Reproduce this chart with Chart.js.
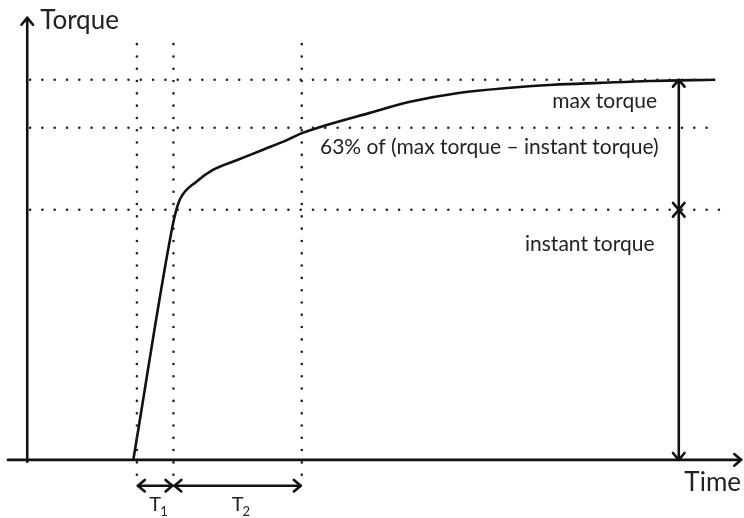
<!DOCTYPE html>
<html>
<head>
<meta charset="utf-8">
<script src="https://cdn.jsdelivr.net/npm/chart.js@4.4.1/dist/chart.umd.min.js"></script>
<style>
  html, body { margin: 0; padding: 0; background: #fff; }
  #wrap { width: 744px; height: 518px; }
</style>
</head>
<body>
<div id="wrap"><canvas id="torque"></canvas></div>
<script>
// curve (time in arbitrary units, torque in % of max)
const timeValues = [14.8, 20.3, 20.8, 21.4, 23.6, 25.9, 29.3, 32.9, 36.3, 38.5, 40.9, 47.8, 53.4, 60.4, 67.4, 73.4, 79.9, 86.9, 96.0];
const torqueValues = [0, 61.8, 65.8, 68.9, 73.2, 76.3, 78.9, 81.6, 84.2, 86.1, 87.6, 91.3, 94.2, 96.6, 97.9, 98.7, 99.2, 99.7, 100];

// start of T1, end of T1, end of T2
const markerTimes = [15.3, 20.4, 38.3];
const intervalLabels = ['1', '2'];

// max torque, 63% level, instant torque
const levelTorques = [100, 87.4, 65.8];
const levelLabels = ['max torque', '63% of (max torque \u2013 instant torque)', 'instant torque'];

const axisLabels = ['Time', 'Torque'];

const INK = '#111';
const TEXT = '#222';
const FONT = 'Lato, "Open Sans", sans-serif';

const dotted = {
    borderColor: '#222',
    borderWidth: 2.6,
    borderDash: [0, 12.3],
    borderCapStyle: 'round',
    pointRadius: 0,
    fill: false,
    tension: 0
};

const datasets = [];
markerTimes.forEach(t => {
    datasets.push(Object.assign({ data: [{x: t, y: -3.9}, {x: t, y: 111.8}] }, dotted));
});
levelTorques.forEach((v, i) => {
    const end = i === 2 ? 96.8 : 95.9;
    datasets.push(Object.assign({ data: [{x: 0.4, y: v}, {x: end, y: v}] }, dotted));
});
datasets.push({
    data: timeValues.map((t, i) => ({x: t, y: torqueValues[i]})),
    borderColor: INK,
    borderWidth: 2.6,
    pointRadius: 0,
    fill: false,
    cubicInterpolationMode: 'monotone'
});

function arrowHead(ctx, x, y, dir) {
    // open chevron, dir is the direction the tip points to (radians)
    const len = 9, spread = 0.7;
    ctx.beginPath();
    ctx.moveTo(x - len * Math.cos(dir - spread), y - len * Math.sin(dir - spread));
    ctx.lineTo(x, y);
    ctx.lineTo(x - len * Math.cos(dir + spread), y - len * Math.sin(dir + spread));
    ctx.stroke();
}

function line(ctx, x1, y1, x2, y2) {
    ctx.beginPath();
    ctx.moveTo(x1, y1);
    ctx.lineTo(x2, y2);
    ctx.stroke();
}

const annotations = {
    id: 'annotations',
    afterDatasetsDraw(chart) {
        const ctx = chart.ctx;
        const xs = chart.scales.x, ys = chart.scales.y;
        const px = v => xs.getPixelForValue(v);
        const py = v => ys.getPixelForValue(v);
        ctx.save();
        ctx.strokeStyle = INK;
        ctx.lineWidth = 2.6;
        ctx.lineCap = 'round';
        ctx.lineJoin = 'round';

        // axes
        const x0 = px(0), y0 = py(0);
        line(ctx, x0, py(-0.5), x0, py(116.3));
        arrowHead(ctx, x0, py(116.3), -Math.PI / 2);
        line(ctx, px(-2.7), y0, px(99.6), y0);
        arrowHead(ctx, px(99.6), y0, 0);

        // vertical double arrows on the right
        const ax = px(90.9);
        line(ctx, ax, py(levelTorques[0]), ax, py(levelTorques[2]));
        arrowHead(ctx, ax, py(levelTorques[0]), -Math.PI / 2);
        arrowHead(ctx, ax, py(levelTorques[2]), Math.PI / 2);
        line(ctx, ax, py(levelTorques[2]), ax, y0);
        arrowHead(ctx, ax, py(levelTorques[2]), -Math.PI / 2);
        arrowHead(ctx, ax, y0, Math.PI / 2);

        // T1 and T2 arrows
        const ty = py(-6.8);
        for (let i = 0; i < 2; i++) {
            const a = px(markerTimes[i]) + 1, b = px(markerTimes[i + 1]) - 1;
            line(ctx, a, ty, b, ty);
            arrowHead(ctx, a, ty, Math.PI);
            arrowHead(ctx, b, ty, 0);
        }

        // texts
        ctx.fillStyle = TEXT;
        ctx.textBaseline = 'middle';
        ctx.font = '26px ' + FONT;
        ctx.textAlign = 'left';
        ctx.fillText(axisLabels[1], x0 + 13, 21);
        ctx.textAlign = 'right';
        ctx.fillText(axisLabels[0], 741, 483);

        ctx.font = '21px ' + FONT;
        ctx.textAlign = 'right';
        ctx.fillText(levelLabels[0], 657, py(levelTorques[0]) + 21);
        ctx.textAlign = 'left';
        ctx.fillText(levelLabels[1], 320, py(levelTorques[1]) + 20);
        ctx.fillText(levelLabels[2], 525, py(levelTorques[2]) + 34);

        for (let i = 0; i < 2; i++) {
            const mid = (px(markerTimes[i]) + px(markerTimes[i + 1])) / 2;
            ctx.font = '20px ' + FONT;
            ctx.textAlign = 'center';
            ctx.fillText('T', mid, ty + 19);
            ctx.font = '13px ' + FONT;
            ctx.textAlign = 'left';
            ctx.fillText(intervalLabels[i], mid + 5, ty + 26);
        }
        ctx.restore();
    }
};

new Chart(document.getElementById('torque'), {
    type: 'line',
    data: { datasets: datasets },
    options: {
        responsive: true,
        maintainAspectRatio: false,
        animation: false,
        layout: { padding: 0 },
        plugins: { legend: { display: false }, tooltip: { enabled: false } },
        scales: {
            x: { type: 'linear', min: -3.8, max: 100, display: false },
            y: { type: 'linear', min: -15.3, max: 121, display: false }
        },
        elements: { line: { borderJoinStyle: 'round' } }
    },
    plugins: [annotations]
});
</script>
</body>
</html>
